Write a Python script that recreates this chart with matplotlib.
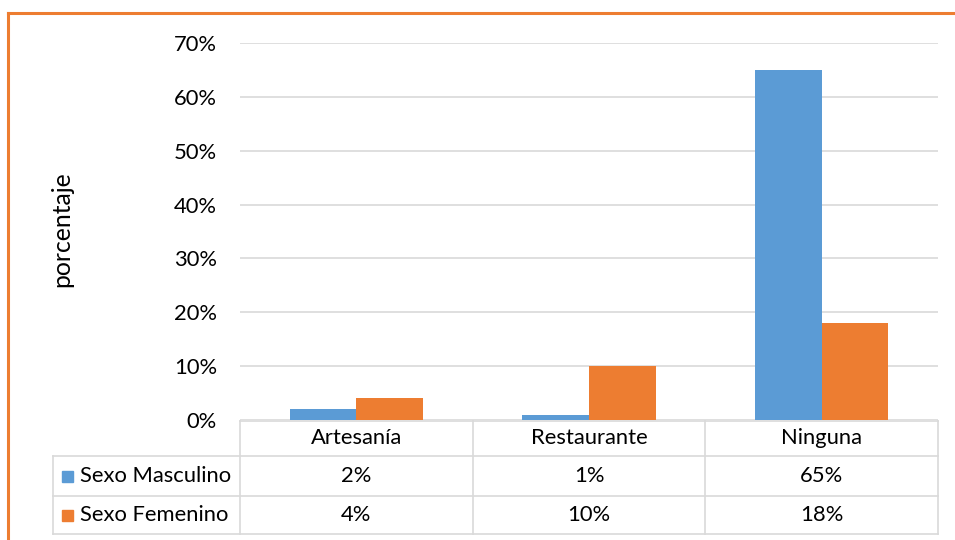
import matplotlib
matplotlib.use("Agg")
import matplotlib.pyplot as plt
from matplotlib.lines import Line2D
from matplotlib.patches import Rectangle
import numpy as np

categories = ["Artesanía", "Restaurante", "Ninguna"]
series_names = ["Sexo Masculino", "Sexo Femenino"]
masculino = [0.02, 0.01, 0.65]
femenino = [0.04, 0.10, 0.18]
yticks = [0, 0.1, 0.2, 0.3, 0.4, 0.5, 0.6, 0.7]
colors = ["#5B9BD5", "#ED7D31"]

plt.rcParams['font.family'] = ['Lato', 'DejaVu Sans']
W, H = 955, 540
fig = plt.figure(figsize=(W/100, H/100), dpi=100)

def fx(px): return px / W
def fy(py): return 1 - py / H

fs = 15.8

# main axes
ax = fig.add_axes([fx(240), fy(420), fx(938) - fx(240), fy(43) - fy(420)])
x = np.arange(len(categories))
bw = 0.287
ax.bar(x - bw/2, masculino, bw, color=colors[0], zorder=3)
ax.bar(x + bw/2, femenino, bw, color=colors[1], zorder=3)
ax.set_xlim(-0.5, len(categories) - 0.5)
ax.set_ylim(0, 0.7)
ax.set_yticks(yticks)
ax.set_yticklabels([f"{int(round(t*100))}%" for t in yticks], fontsize=fs)
ax.yaxis.grid(True, color="#D9D9D9", linewidth=1.2, zorder=0)
ax.set_xticks([])
for s in ax.spines.values():
    s.set_visible(False)
ax.tick_params(axis='y', length=0, pad=16.5)
ax.set_ylabel("porcentaje", fontsize=17.8)
ax.yaxis.set_label_coords(fx(73 - 240) / (fx(938) - fx(240)), 0.506)

# table axes sharing the x scale
tab = fig.add_axes([fx(240), fy(534), fx(938) - fx(240), fy(421) - fy(534)], sharex=ax)
tab.set_ylim(0, 113)
tab.axis('off')
left = -0.5 - (240 - 53) / 233.0
right = len(categories) - 0.5
lc = "#D9D9D9"
lw = 1.2
kw = dict(color=lc, linewidth=lw, clip_on=False)
tab.plot([-0.5, right], [113, 113], **kw)
tab.plot([left, right], [78, 78], **kw)
tab.plot([left, right], [38, 38], **kw)
tab.plot([left, right], [0, 0], **kw)
tab.plot([left, left], [0, 78], **kw)
for b in np.arange(len(categories) + 1) - 0.5:
    tab.plot([b, b], [0, 113], **kw)

for i, c in enumerate(categories):
    tab.text(i, 95.5, c, ha='center', va='center', fontsize=fs, clip_on=False)
    tab.text(i, 58, f"{int(round(masculino[i]*100))}%", ha='center', va='center', fontsize=fs)
    tab.text(i, 19, f"{int(round(femenino[i]*100))}%", ha='center', va='center', fontsize=fs)

# legend keys + labels
unit = 1 / 233.0
for r, (name, col, yc) in enumerate(zip(series_names, colors, [58, 19])):
    x0 = -0.5 - (240 - 62) * unit
    tab.add_patch(Rectangle((x0, yc - 5.5), 11 * unit, 11, color=col, clip_on=False))
    tab.text(-0.5 - (240 - 80) * unit, yc, name, ha='left', va='center', fontsize=fs, clip_on=False)

# orange border
oc = "#ED7D31"
fig.add_artist(Line2D([fx(8), 1.0], [fy(13), fy(13)], color=oc, linewidth=2.2, transform=fig.transFigure))
fig.add_artist(Line2D([fx(8), fx(8)], [0, fy(13)], color=oc, linewidth=2.2, transform=fig.transFigure))

fig.savefig("out.png", dpi=100)
